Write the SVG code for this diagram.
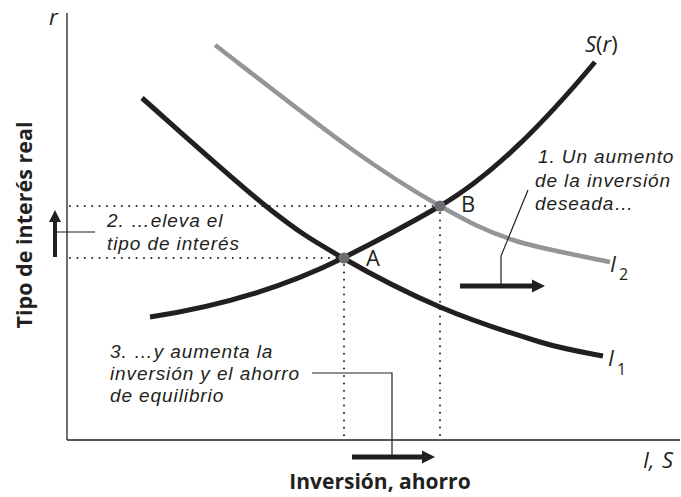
<svg xmlns="http://www.w3.org/2000/svg" width="681" height="497" viewBox="0 0 681 497">
<style>
.axis{stroke:#231f20;stroke-width:1.3;fill:none}
.curve{fill:none;stroke:#231f20;stroke-width:5}
.gray{fill:none;stroke:#939598;stroke-width:4.5}
.dot{fill:none;stroke:#231f20;stroke-width:2;stroke-linecap:round;stroke-dasharray:0 7.4}
.lead{fill:none;stroke:#231f20;stroke-width:1.2}
.shaft{stroke:#231f20;stroke-width:5}
.head{fill:#231f20}
.pt{fill:#6d6e71}
.note{font-family:"Liberation Sans",Arial,sans-serif;font-style:italic;font-size:19px;letter-spacing:0.9px;fill:#231f20}
.lab{font-family:"Open Sans","Liberation Sans",sans-serif;font-size:22px;fill:#231f20}
.sub{font-family:"Open Sans","Liberation Sans",sans-serif;font-size:16px;fill:#231f20}
.it{font-style:italic}
.bold{font-family:"Open Sans","Liberation Sans",sans-serif;font-weight:bold;font-size:21px;fill:#231f20}
</style>
<rect width="681" height="497" fill="#fff"/>
<g id="axes">
<line class="axis" x1="67" y1="13" x2="67" y2="440"/>
<line class="axis" x1="67" y1="440" x2="680" y2="440"/>
<text class="lab it" x="49" y="25">r</text>
<text class="lab it" x="643" y="468">I,</text>
<text class="lab it" x="662" y="468">S</text>
<text class="bold" x="380" y="489" text-anchor="middle">Inversión, ahorro</text>
<text class="bold" transform="translate(32,225) rotate(-90)" text-anchor="middle" style="font-size:21.5px">Tipo de interés real</text>
</g>
<g id="guides">
<line class="dot" x1="70" y1="206" x2="440" y2="206"/>
<line class="dot" x1="70" y1="258" x2="343" y2="258"/>
<line class="dot" x1="344" y1="265" x2="344" y2="438"/>
<line class="dot" x1="440" y1="213" x2="440" y2="438"/>
</g>
<g id="curve-I2">
<path class="gray" d="M215,45 C237.5,62.2 312.5,121.2 350,148 C387.5,174.8 412.8,190.7 440,206 C467.2,221.3 484.7,230.7 513,240 C541.3,249.3 593.8,258.3 610,262"/>
<text class="lab it" x="610" y="272">I</text><text class="sub" x="619" y="280">2</text>
</g>
<g id="curve-I1">
<path class="curve" d="M142,98 C162.8,116.2 233.5,180.3 267,207 C300.5,233.7 314.2,241.3 343,258 C371.8,274.7 407.2,293 440,307 C472.8,321 512.8,333.8 540,342 C567.2,350.2 592.5,353.7 603,356"/>
<text class="lab it" x="608" y="366">I</text><text class="sub" x="617" y="375">1</text>
</g>
<g id="curve-S">
<path class="curve" d="M150,317 C214,307.4 279,290 343,258 C375,242 408,224.6 440,206 C492,175.8 543,124 595,62"/>
<text class="lab" x="585" y="52"><tspan class="it">S</tspan>(<tspan class="it">r</tspan>)</text>
</g>
<g id="point-A">
<circle class="pt" cx="344" cy="258" r="5.5"/>
<text class="lab" x="366" y="266">A</text>
</g>
<g id="point-B">
<circle class="pt" cx="440" cy="206" r="5.5"/>
<text class="lab" x="461" y="212">B</text>
</g>
<g id="note-1">
<text class="note" x="538" y="163">1. Un aumento</text>
<text class="note" x="535" y="187">de la inversión</text>
<text class="note" x="535" y="210">deseada…</text>
</g>
<g id="note-2">
<text class="note" x="107" y="227">2. …eleva el</text>
<text class="note" x="107" y="250">tipo de interés</text>
</g>
<g id="note-3">
<text class="note" x="110" y="358">3. …y aumenta la</text>
<text class="note" x="110" y="380">inversión y el ahorro</text>
<text class="note" x="110" y="402">de equilibrio</text>
</g>
<g id="connectors">
<polyline class="lead" points="528,190 501,256 501,286"/>
<line class="shaft" x1="460" y1="286" x2="535" y2="286"/>
<polygon class="head" points="532,279.5 545,286 532,292.5"/>
<line class="lead" x1="55" y1="232" x2="95" y2="232"/>
<line class="shaft" x1="55" y1="257" x2="55" y2="218" style="stroke-width:4"/>
<polygon class="head" points="49,222 55,210 61,222"/>
<polyline class="lead" points="312,373 392,373 392,457"/>
<line class="shaft" x1="352" y1="457" x2="425" y2="457"/>
<polygon class="head" points="422,450.5 435,457 422,463.5"/>
</g>
</svg>
